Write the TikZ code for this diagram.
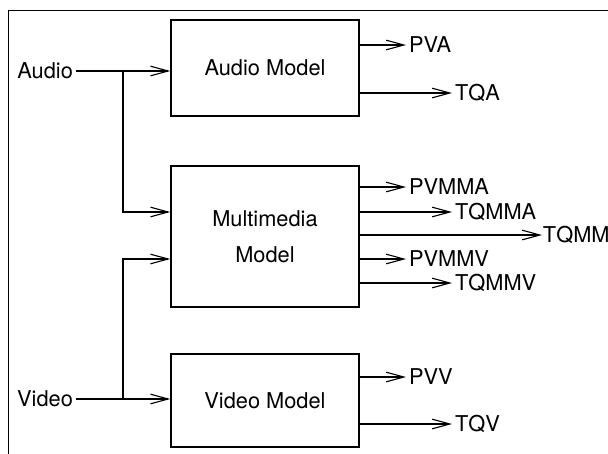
\documentclass[tikz,border=0pt]{standalone}
\usepackage{fontspec}
\setmainfont{TeX Gyre Heros}
\usepackage{tikz}
\usetikzlibrary{arrows.meta,positioning,calc}

\begin{document}
\begin{tikzpicture}[
    x=0.025cm, y=-0.025cm,
    every node/.style={font=\fontsize{15.5}{18}\selectfont},
    model/.style={draw, line width=1pt, minimum width=4.7cm, minimum height=2.4cm, align=center, inner sep=0pt},
    signal/.style={inner sep=2pt},
    arrow/.style={-{Straight Barb[length=4.4mm, width=2.4mm, line width=0.8pt]}, line width=0.8pt}
]
\useasboundingbox (0,0) rectangle (608,454);

% Frame
\draw[line width=0.7pt] (608,10) -- (8,10) -- (8,454);

% Nodes
\node (amodel) [model] at (265,68) {Audio Model};
\node (mmodel) [model, minimum height=3.525cm] at (265,236.5) {Multimedia\\[8pt]Model};
\node (vmodel) [model, minimum height=2.325cm] at (265,400.5) {Video Model};

\node (audio) [signal, anchor=east] at (76,71) {Audio};
\node (video) [signal, anchor=east] at (76,399) {Video};

\coordinate (asplit) at (123,71);
\coordinate (vsplit) at (123,399);
\coordinate (ain) at (123,212);
\coordinate (vin) at (123,259);

\node (pva)   [signal, anchor=west] at (406,45)  {PVA};
\node (tqa)   [signal, anchor=west] at (452,93)  {TQA};
\node (pvmma) [signal, anchor=west] at (406,187) {PVMMA};
\node (tqmma) [signal, anchor=west] at (452,212) {TQMMA};
\node (tqmm)  [signal, anchor=west, inner sep=0.5pt] at (542,235) {TQMM};
\node (pvmmv) [signal, anchor=west] at (406,259) {PVMMV};
\node (tqmmv) [signal, anchor=west] at (452,283) {TQMMV};
\node (pvv)   [signal, anchor=west] at (406,377) {PVV};
\node (tqv)   [signal, anchor=west] at (452,424) {TQV};

% Connectors
\draw [arrow] (audio.east) -- (audio.east -| amodel.west);
\draw [arrow] (asplit) -- (ain) -- (ain -| mmodel.west);
\draw [arrow] (video.east) -- (video.east -| vmodel.west);
\draw [arrow] (vsplit) -- (vin) -- (vin -| mmodel.west);

\foreach \out/\src in {pva/amodel, tqa/amodel, pvmma/mmodel, tqmma/mmodel, tqmm/mmodel, pvmmv/mmodel, tqmmv/mmodel, pvv/vmodel, tqv/vmodel}
    \draw [arrow] (\out.west -| \src.east) -- (\out.west);

\end{tikzpicture}
\end{document}
